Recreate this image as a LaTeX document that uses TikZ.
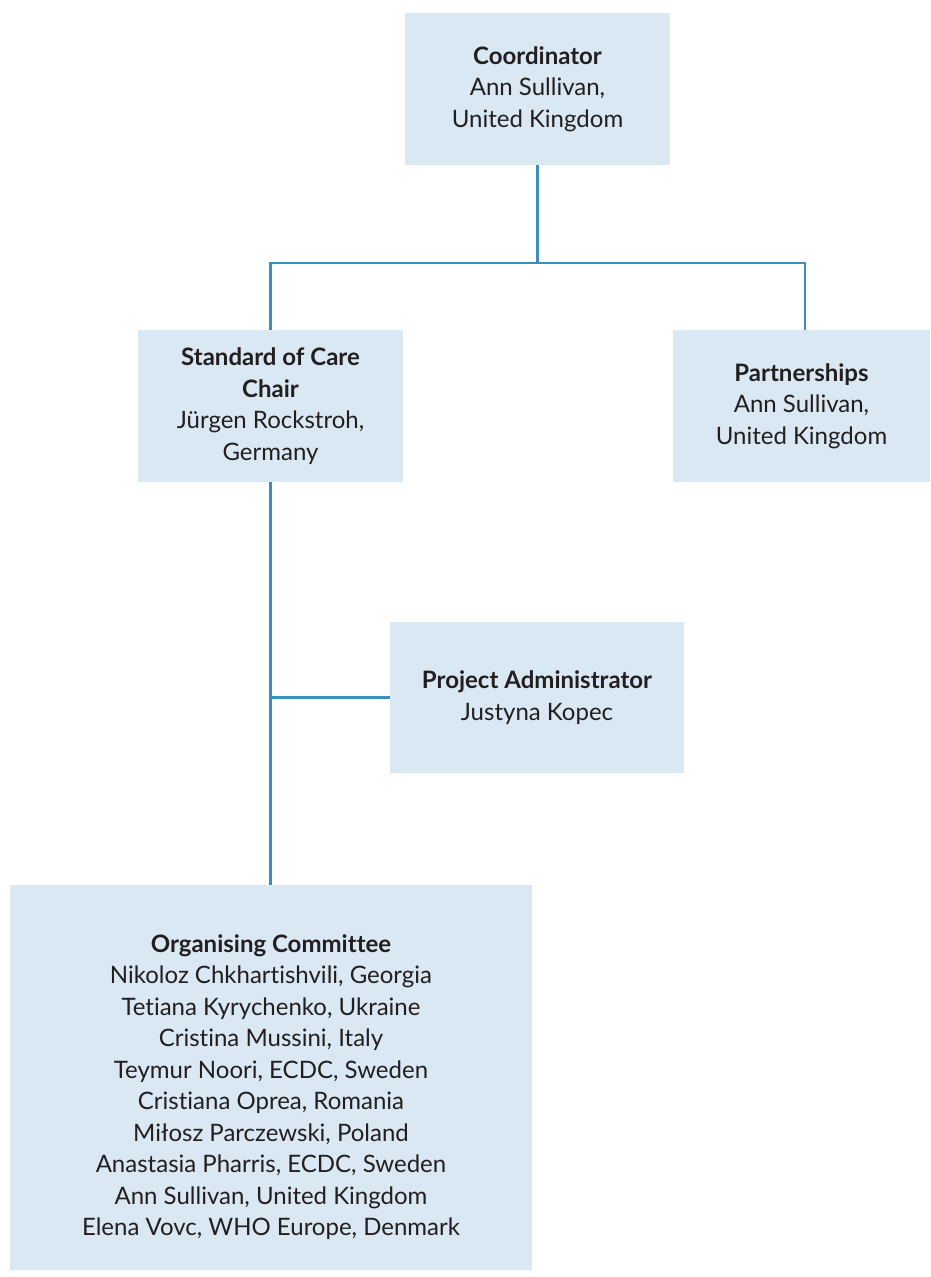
\documentclass[tikz,border=0pt]{standalone}
\usepackage{fontspec}
\setmainfont{Lato}[Ligatures=NoCommon]
\definecolor{boxfill}{HTML}{D9E8F3}
\definecolor{linkc}{HTML}{3A8FBF}
\definecolor{txt}{HTML}{231F20}
\begin{document}
\begin{tikzpicture}[x=1pt,y=-1pt,
  orgbox/.style={fill=boxfill,draw=none,inner sep=0pt,align=center,text=txt,
    font=\fontsize{24}{31.5}\selectfont},
  link/.style={draw=linkc,line width=2.6pt}]
\useasboundingbox (0,0) rectangle (930,1277);
\node[orgbox,minimum width=265,minimum height=152] (coord) at (537.5,89)
  {\textbf{Coordinator}\\Ann Sullivan,\\United Kingdom};
\node[orgbox,minimum width=265,minimum height=152] (soc) at (270.5,406)
  {\textbf{Standard of Care}\\\textbf{Chair}\\Jürgen Rockstroh,\\Germany};
\node[orgbox,minimum width=257,minimum height=152] (part) at (801.5,406)
  {\textbf{Partnerships}\\Ann Sullivan,\\United Kingdom};
\node[orgbox,minimum width=294,minimum height=151] (adm) at (537,697.5)
  {\textbf{Project Administrator}\\Justyna Kopec};
\node[orgbox,minimum width=522,minimum height=385] (com) at (271,1077.5) {};
\node[orgbox,anchor=center] (comtext) at (271,1087)
  {\textbf{Organising Committee}\\
   Nikoloz Chkhartishvili, Georgia\\
   Tetiana Kyrychenko, Ukraine\\
   Cristina Mussini, Italy\\
   Teymur Noori, ECDC, Sweden\\
   Cristiana Oprea, Romania\\
   Miłosz Parczewski, Poland\\
   Anastasia Pharris, ECDC, Sweden\\
   Ann Sullivan, United Kingdom\\
   Elena Vovc, WHO Europe, Denmark};
\coordinate (hub) at (537.5,263);
\coordinate (rtop) at (805,330);
\coordinate (tee) at (270.5,697.5);
\draw[link] (coord.south) -- (hub);
\draw[link] (soc.north) |- (hub) -| (rtop);
\draw[link] (soc.south) -- (soc.south |- com.north);
\draw[link] (tee) -- (adm.west);
\end{tikzpicture}
\end{document}
